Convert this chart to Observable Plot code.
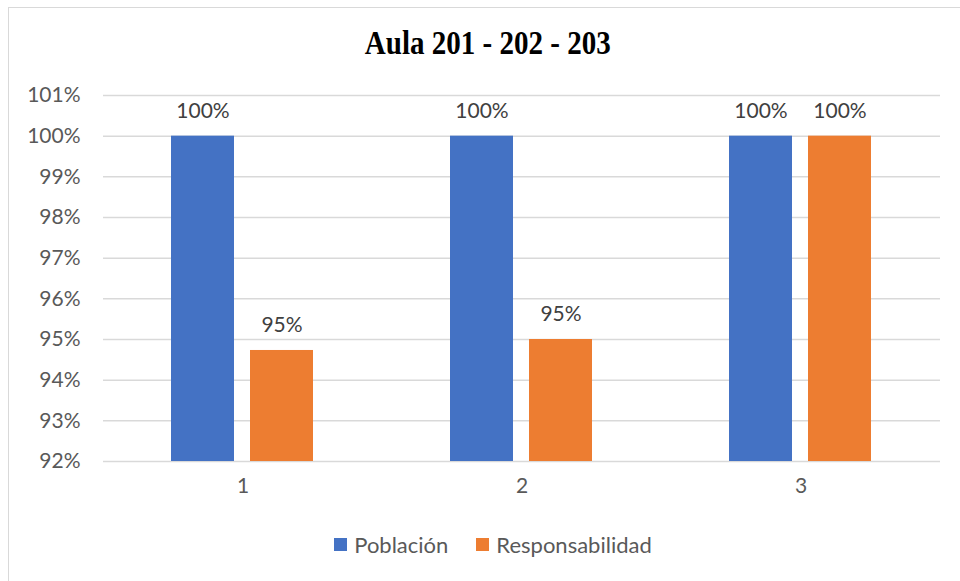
<!DOCTYPE html>
<html>
<head>
<meta charset="utf-8">
<script src="https://cdn.jsdelivr.net/npm/d3@7"></script>
<script src="https://cdn.jsdelivr.net/npm/@observablehq/plot@0.6"></script>
<style>
  html, body { margin: 0; padding: 0; background: #fff; }
  body { width: 960px; height: 581px; position: relative; overflow: hidden; font-family: Lato, "Open Sans", sans-serif; }
  #frame { position: absolute; left: 8px; top: 7px; width: 1000px; height: 700px; border: 1.5px solid #d9d9d9; box-sizing: border-box; }
  #title { position: absolute; left: 0; width: 960px; top: 25px; text-align: center; font-family: "Liberation Serif", "Times New Roman", serif; font-weight: bold; font-size: 33px; color: #000; }
  #title span { display: inline-block; transform: scaleX(0.88); transform-origin: center; margin-left: 16px; }
  #chart { position: absolute; left: 0; top: 0; }
  #legend { position: absolute; left: 0; width: 960px; top: 531px; display: flex; justify-content: center; align-items: center; font-size: 22px; color: #595959; padding-left: 26px; box-sizing: border-box; }
  .item { display: flex; align-items: center; margin: 0 14px; }
  .sw { width: 13px; height: 13px; margin-right: 7px; }
</style>
</head>
<body>
<div id="frame"></div>
<div id="title"><span>Aula 201 - 202 - 203</span></div>
<div id="chart"></div>
<div id="legend"></div>
<script>
const groups = [1, 2, 3];
const series = ["Población", "Responsabilidad"];
const poblacion = [100, 100, 100];
const responsabilidad = [94.73, 95.0, 100];
const yTicks = [92, 93, 94, 95, 96, 97, 98, 99, 100, 101];
const yMin = 92, yMax = 101;
const colors = ["#4472C4", "#ED7D31"];

const data = [];
groups.forEach((g, i) => {
  data.push({group: g, series: series[0], value: poblacion[i]});
  data.push({group: g, series: series[1], value: responsabilidad[i]});
});

const plot = Plot.plot({
  width: 960,
  height: 510,
  marginTop: 95,
  marginBottom: 49,
  marginLeft: 103,
  marginRight: 20,
  style: {fontFamily: "Lato, 'Open Sans', sans-serif", fontSize: "21px", color: "#595959", background: "transparent"},
  fx: {domain: groups, padding: 0, label: null, axis: "bottom", tickSize: 0, tickPadding: 17},
  x: {domain: series, paddingInner: 0.2025, paddingOuter: 0.867, axis: null},
  y: {domain: [yMin, yMax], ticks: yTicks, tickFormat: d => d + "%", tickSize: 0, tickPadding: 23, label: null},
  color: {domain: series, range: colors},
  marks: [
    Plot.ruleY(yTicks, {stroke: "#d9d9d9", strokeWidth: 1.5}),
    Plot.barY(data, {fx: "group", x: "series", y1: yMin, y2: "value", fill: "series"}),
    Plot.text(data, {fx: "group", x: "series", y: "value", text: d => Math.round(d.value) + "%", dy: -25, fill: "#404040", fontSize: 21})
  ]
});
document.getElementById("chart").appendChild(plot);

const legend = document.getElementById("legend");
series.forEach((s, i) => {
  const item = document.createElement("div");
  item.className = "item";
  const sw = document.createElement("div");
  sw.className = "sw";
  sw.style.background = colors[i];
  const t = document.createElement("span");
  t.textContent = s;
  item.appendChild(sw);
  item.appendChild(t);
  legend.appendChild(item);
});
</script>
</body>
</html>
